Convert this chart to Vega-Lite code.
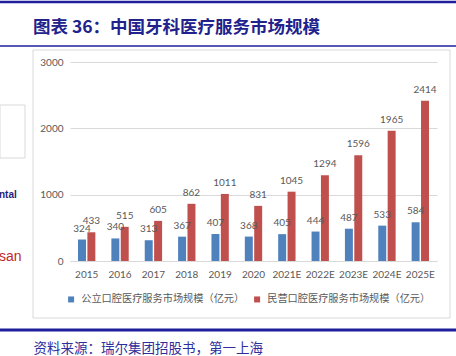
{
  "$schema": "https://vega.github.io/schema/vega-lite/v6.json",
  "width": 367,
  "height": 199,
  "autosize": {"type": "none"},
  "padding": {"left": 70, "top": 62, "right": 19, "bottom": 95},
  "background": "white",
  "config": {"view": {"stroke": null}},
  "title": {
    "text": "图表 36：中国牙科医疗服务市场规模",
    "anchor": "start",
    "frame": "group",
    "dx": -37,
    "offset": -50,
    "baseline": "alphabetic",
    "font": "Noto Sans CJK SC",
    "fontSize": 17.5,
    "fontWeight": "bold",
    "color": "#22228C"
  },
  "datasets": {
    "market": [
      {"year": "2015", "type": "公立口腔医疗服务市场规模（亿元）", "value": 324},
      {"year": "2015", "type": "民营口腔医疗服务市场规模（亿元）", "value": 433},
      {"year": "2016", "type": "公立口腔医疗服务市场规模（亿元）", "value": 340},
      {"year": "2016", "type": "民营口腔医疗服务市场规模（亿元）", "value": 515},
      {"year": "2017", "type": "公立口腔医疗服务市场规模（亿元）", "value": 313},
      {"year": "2017", "type": "民营口腔医疗服务市场规模（亿元）", "value": 605},
      {"year": "2018", "type": "公立口腔医疗服务市场规模（亿元）", "value": 367},
      {"year": "2018", "type": "民营口腔医疗服务市场规模（亿元）", "value": 862},
      {"year": "2019", "type": "公立口腔医疗服务市场规模（亿元）", "value": 407},
      {"year": "2019", "type": "民营口腔医疗服务市场规模（亿元）", "value": 1011},
      {"year": "2020", "type": "公立口腔医疗服务市场规模（亿元）", "value": 368},
      {"year": "2020", "type": "民营口腔医疗服务市场规模（亿元）", "value": 831},
      {"year": "2021E", "type": "公立口腔医疗服务市场规模（亿元）", "value": 405},
      {"year": "2021E", "type": "民营口腔医疗服务市场规模（亿元）", "value": 1045},
      {"year": "2022E", "type": "公立口腔医疗服务市场规模（亿元）", "value": 444},
      {"year": "2022E", "type": "民营口腔医疗服务市场规模（亿元）", "value": 1294},
      {"year": "2023E", "type": "公立口腔医疗服务市场规模（亿元）", "value": 487},
      {"year": "2023E", "type": "民营口腔医疗服务市场规模（亿元）", "value": 1596},
      {"year": "2024E", "type": "公立口腔医疗服务市场规模（亿元）", "value": 533},
      {"year": "2024E", "type": "民营口腔医疗服务市场规模（亿元）", "value": 1965},
      {"year": "2025E", "type": "公立口腔医疗服务市场规模（亿元）", "value": 584},
      {"year": "2025E", "type": "民营口腔医疗服务市场规模（亿元）", "value": 2414}
    ],
    "one": [{}]
  },
  "layer": [
    {
      "data": {"name": "one"},
      "mark": {"type": "rect", "fill": null, "stroke": "#D9D9D9", "strokeWidth": 1},
      "encoding": {
        "x": {"value": -37}, "x2": {"value": 380},
        "y": {"value": -12}, "y2": {"value": 256}
      }
    },
    {
      "data": {"name": "market"},
      "mark": {"type": "bar"},
      "encoding": {
        "x": {
          "field": "year", "type": "nominal", "sort": null,
          "scale": {"paddingInner": 0.48, "paddingOuter": 0.24},
          "axis": {
            "labelAngle": 0, "labelFont": "Lato", "labelFontSize": 10, "labelColor": "#595959",
            "labelPadding": 8, "ticks": false, "domain": true, "domainColor": "#D9D9D9",
            "title": "资料来源：瑞尔集团招股书，第一上海",
            "titleFont": "Noto Sans CJK SC", "titleFontSize": 13.5, "titleFontWeight": "normal",
            "titleColor": "#2E2E9C", "titleX": -37, "titleY": 87, "titleAlign": "left",
            "titleAnchor": "start", "titleBaseline": "middle"
          }
        },
        "xOffset": {"field": "type", "type": "nominal", "scale": {"paddingInner": 0.15}},
        "y": {
          "field": "value", "type": "quantitative",
          "scale": {"domain": [0, 3000]},
          "axis": {
            "values": [0, 500, 1000, 1500, 2000, 2500, 3000], "format": "d",
            "title": null, "domain": false, "ticks": false,
            "labelFont": "Lato", "labelFontSize": 10, "labelColor": "#595959", "labelPadding": 7,
            "gridColor": "#D9D9D9", "gridWidth": 1
          }
        },
        "color": {
          "field": "type", "type": "nominal",
          "scale": {"range": ["#4F81BD", "#C0504D"]},
          "legend": {
            "title": null, "orient": "none", "direction": "horizontal",
            "legendX": -4, "legendY": 232,
            "symbolType": "square", "symbolSize": 36, "symbolStrokeWidth": 0,
            "labelFont": "Noto Sans CJK SC", "labelFontSize": 10.2, "labelColor": "#595959",
            "labelOffset": 5, "columnPadding": 7, "padding": 0, "labelLimit": 400
          }
        }
      }
    },
    {
      "data": {"name": "market"},
      "mark": {"type": "text", "baseline": "alphabetic", "dy": -8, "font": "Lato", "fontSize": 10, "color": "#595959"},
      "encoding": {
        "x": {"field": "year", "type": "nominal", "sort": null},
        "xOffset": {"field": "type", "type": "nominal"},
        "y": {"field": "value", "type": "quantitative"},
        "text": {"field": "value", "type": "quantitative"}
      }
    },
    {
      "data": {"name": "one"},
      "mark": {"type": "rule", "stroke": "#1F1F9E", "strokeWidth": 2.5},
      "encoding": {"x": {"value": -70}, "x2": {"value": 386}, "y": {"value": -60}}
    },
    {
      "data": {"name": "one"},
      "mark": {"type": "rule", "stroke": "#1F1F9E", "strokeWidth": 1.5},
      "encoding": {"x": {"value": -70}, "x2": {"value": 386}, "y": {"value": -16}}
    },
    {
      "data": {"name": "one"},
      "mark": {"type": "rule", "stroke": "#1F1F9E", "strokeWidth": 3},
      "encoding": {"x": {"value": -70}, "x2": {"value": 386}, "y": {"value": 268}}
    },
    {
      "data": {"name": "one"},
      "mark": {"type": "rect", "fill": null, "stroke": "#D9D9D9", "strokeWidth": 1},
      "encoding": {
        "x": {"value": -70}, "x2": {"value": -45},
        "y": {"value": 43}, "y2": {"value": 96}
      }
    },
    {
      "data": {"name": "one"},
      "mark": {"type": "text", "align": "left", "baseline": "middle", "font": "Liberation Sans", "fontSize": 10, "fontWeight": "bold", "color": "#1F1F7A", "text": "ntal"},
      "encoding": {"x": {"value": -71}, "y": {"value": 133}}
    },
    {
      "data": {"name": "one"},
      "mark": {"type": "text", "align": "left", "baseline": "middle", "font": "Liberation Sans", "fontSize": 14, "color": "#C0272D", "text": "san"},
      "encoding": {"x": {"value": -71}, "y": {"value": 195}}
    }
  ]
}
